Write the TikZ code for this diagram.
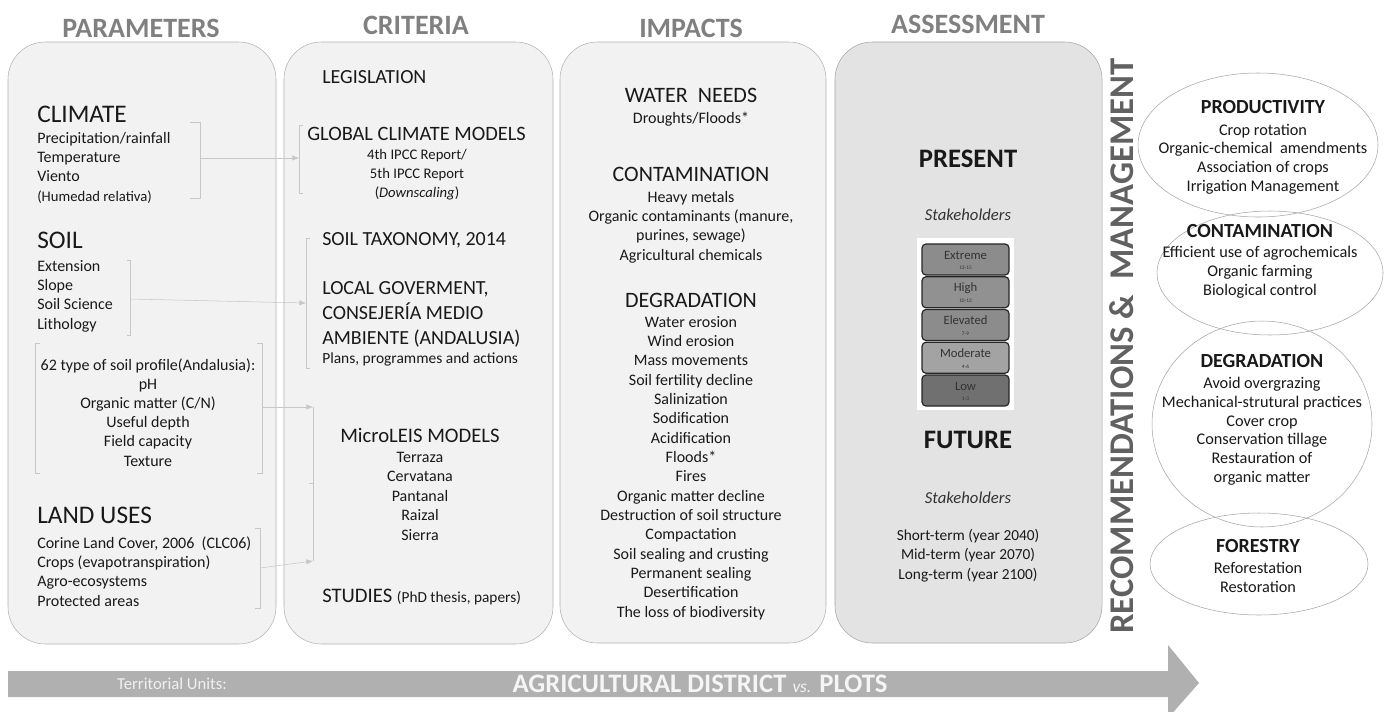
\documentclass[tikz,border=0pt]{standalone}
\usepackage{fontspec}
\setmainfont{Carlito}
\usetikzlibrary{arrows.meta}

\newcommand{\fs}[2]{\fontsize{#1}{#2}\selectfont}

\begin{document}
\begin{tikzpicture}[x=0.75pt,y=-0.75pt,
  panel/.style={draw=black!30,fill=black!5,rounded corners=28pt},
  colhead/.style={font=\fs{21}{22}\bfseries,text=black!50,anchor=base},
  phead/.style={font=\fs{19}{20},text=black!90,inner sep=0,anchor=base west},
  chead/.style={font=\fs{15}{18.4},text=black!90,inner sep=0,anchor=base west,align=left},
  ihead/.style={font=\fs{16.5}{18},text=black!90,inner sep=0,anchor=base},
  items/.style={font=\fs{12}{14.5},text=black!90,inner sep=0,anchor=base west,align=left},
  citems/.style={font=\fs{12}{14.5},text=black!90,inner sep=0,anchor=base,align=center},
  ahead/.style={font=\fs{20}{22}\bfseries,text=black!90,inner sep=0,anchor=base},
  ehead/.style={font=\fs{15}{16}\bfseries,text=black!90,inner sep=0,anchor=base},
  eitems/.style={font=\fs{12.2}{14}\relax,text=black!90,inner sep=0,anchor=base,align=center},
  stake/.style={font=\fs{12.5}{13}\itshape,text=black!80,inner sep=0,anchor=base},
  oval/.style={draw=black!35},
  grade/.style={draw=black!85,line width=0.9pt,rounded corners=3pt},
  brk/.style={draw=black!22,thin},
  conn/.style={draw=black!22,thin,-{Latex[length=5pt,width=4pt]}}]
  \useasboundingbox (0,0) rectangle (1391,711);
  \fill[white] (0,0) rectangle (1391,711);

  % column titles
  \node[colhead] (tpar) at (141,37) {PARAMETERS};
  \node[colhead] (tcri) at (416,34) {CRITERIA};
  \node[colhead] (timp) at (691,37) {IMPACTS};
  \node[colhead] (tass) at (968,33) {ASSESSMENT};

  % panels
  \draw[panel] (8,42) rectangle (276,644);
  \draw[panel] (284,42) rectangle (553,644);
  \draw[panel] (560,42) rectangle (826,643);
  \draw[panel,fill=black!11,draw=black!35] (835,42) rectangle (1102,643);

  % parameters (multi-line nodes sit on their last baseline)
  \node[phead] (clim) at (37,122) {CLIMATE};
  \node[items] (climi) at (37,201) {Precipitation/rainfall\\Temperature\\Viento\\{\fs{11}{12}(Humedad relativa)}};
  \node[phead] (soil) at (37,248) {SOIL};
  \node[items] (soili) at (37,329) {Extension\\Slope\\Soil Science\\Lithology};
  \node[citems,font=\fs{12}{14.3}] (prof) at (148,466) {62 type of soil profile(Andalusia):\\pH\\Organic matter (C/N)\\Useful depth\\Field capacity\\Texture};
  \node[phead] (land) at (37,523) {LAND USES};
  \node[items] (landi) at (37,606) {Corine Land Cover, 2006 \ (CLC06)\\Crops (evapotranspiration)\\Agro-ecosystems\\Protected areas};

  % criteria
  \node[chead] (legi) at (322,83) {LEGISLATION};
  \node[chead,font=\fs{15.3}{18}] (gcm) at (307,140) {GLOBAL CLIMATE MODELS};
  \node[citems,font=\fs{11}{14}] (ipcc) at (417,197) {4th IPCC Report/\\5th IPCC Report\\(\textit{Downscaling})};
  \node[chead] (taxo) at (322,245) {SOIL TAXONOMY, 2014};
  \node[chead] (locg) at (322,344) {LOCAL GOVERMENT,\\CONSEJERÍA MEDIO\\AMBIENTE (ANDALUSIA)};
  \node[items,font=\fs{11.6}{14}] (plan) at (322,363) {Plans, programmes and actions};
  \node[ihead,font=\fs{15.5}{18}] (mleis) at (420,442) {MicroLEIS MODELS};
  \node[citems,font=\fs{12}{14.6}] (mleisi) at (420,540) {Terraza\\Cervatana\\Pantanal\\Raizal\\Sierra};
  \node[chead,font=\fs{15.5}{18}] (stud) at (322,602) {STUDIES {\fs{11.5}{14}(PhD thesis, papers)}};

  % impacts
  \node[ihead] (water) at (691,102) {WATER \ NEEDS};
  \node[citems] (wateri) at (691,123) {Droughts/Floods*};
  \node[ihead] (cont) at (691,181) {CONTAMINATION};
  \node[citems] (conti) at (691,260) {Heavy metals\\Organic contaminants (manure,\\purines, sewage)\\Agricultural chemicals};
  \node[ihead] (degr) at (691,307) {DEGRADATION};
  \node[citems] (degri) at (691,617) {Water erosion\\Wind erosion\\Mass movements\\Soil fertility decline\\Salinization\\Sodification\\Acidification\\Floods*\\Fires\\Organic matter decline\\Destruction of soil structure\\Compactation\\Soil sealing and crusting\\Permanent sealing\\Desertification\\The loss of biodiversity};

  % assessment
  \node[ahead] (pres) at (968,167) {PRESENT};
  \node[stake] (stk1) at (968,220) {Stakeholders};
  \fill[white] (917,238) rectangle (1014,410);
  \foreach \lab/\num/\shade [count=\i from 0] in {Extreme/13-15/45,High/10-12/43,Elevated/7-9/45,Moderate/4-6/36,Low/1-3/56} {
    \draw[grade,fill=black!\shade] (922,244+\i*32.75) rectangle ++(87,31);
    \node[font=\fs{9.5}{10},text=black!80] (g\i) at (965.5,255+\i*32.75) {\lab};
    \node[font=\fs{4}{5},text=black!80] (n\i) at (965.5,268+\i*32.75) {\num};
  }
  \node[ahead] (fut) at (968,448) {FUTURE};
  \node[stake] (stk2) at (968,503) {Stakeholders};
  \node[citems,font=\fs{11.5}{14.5}] (terms) at (968,579) {Short-term (year 2040)\\Mid-term (year 2070)\\Long-term (year 2100)};

  % recommendations
  \node[rotate=90,font=\fs{26}{28}\bfseries,text=black!62] (reco) at (1122,346) {RECOMMENDATIONS \& \ MANAGEMENT};
  \draw[oval] (1258,145) ellipse [x radius=120,y radius=72];
  \draw[oval] (1270,273) ellipse [x radius=113,y radius=62];
  \draw[oval] (1262,424) ellipse [x radius=110,y radius=103];
  \draw[oval] (1259,564) ellipse [x radius=109,y radius=51];
  \node[ehead] (prod) at (1263,113) {PRODUCTIVITY};
  \node[eitems] (prodi) at (1263,191) {Crop rotation\\Organic-chemical \ amendments\\Association of crops\\Irrigation Management};
  \node[ehead] (econt) at (1260,237) {CONTAMINATION};
  \node[eitems] (econti) at (1260,295) {Efficient use of agrochemicals\\Organic farming\\Biological control};
  \node[ehead] (edegr) at (1262,367) {DEGRADATION};
  \node[eitems] (edegri) at (1262,482) {Avoid overgrazing\\Mechanical-strutural practices\\Cover crop\\Conservation tillage\\Restauration of\\organic matter};
  \node[ehead] (fore) at (1258,552) {FORESTRY};
  \node[eitems] (forei) at (1258,592) {Reforestation\\Restoration};

  % brackets and links
  \draw[brk] (190,122) -| (200,198) -- (190,198);
  \coordinate (climR) at (200,158);
  \draw[brk] (303,125) -| (299,193) -- (303,193);
  \coordinate (gcmL) at (299,158);
  \draw[brk] (127,260) -| (130,335) -- (127,335);
  \coordinate (soilR) at (130,299);
  \draw[brk] (310,238) -| (306,368) -- (310,368);
  \coordinate (locL) at (306,303);
  \draw[brk] (40,343) -| (35,473) -- (40,473);
  \draw[brk] (257,343) -| (262,473) -- (257,473);
  \coordinate (profR) at (262,407);
  \draw[brk] (255,528) -| (260,608) -- (255,608);
  \coordinate (landR) at (260,568);
  \coordinate (mlTop) at (313,407);
  \coordinate (mlBot) at (313,561);
  \draw[brk] (mlTop) -- (mlBot);
  \draw[brk] (309,483) -- (313,483);
  \draw[conn] (climR) -- (gcmL);
  \draw[conn] (soilR) -- (locL);
  \draw[conn] (profR) -- (mlTop);
  \draw[conn] (landR) -- (mlBot);

  % territorial arrow
  \fill[black!31] (8,671) -- (1168,671) -- (1168,645) -- (1199,683) -- (1168,718) -- (1168,697) -- (8,697) -- cycle;
  \node[font=\fs{12.5}{14},text=black!6] (terr) at (172,684) {Territorial Units:};
  \node[font=\fs{20}{22}\bfseries,text=black!4] (dist) at (700,684) {AGRICULTURAL DISTRICT {\fs{13}{14}\mdseries\itshape vs.} PLOTS};
\end{tikzpicture}
\end{document}
